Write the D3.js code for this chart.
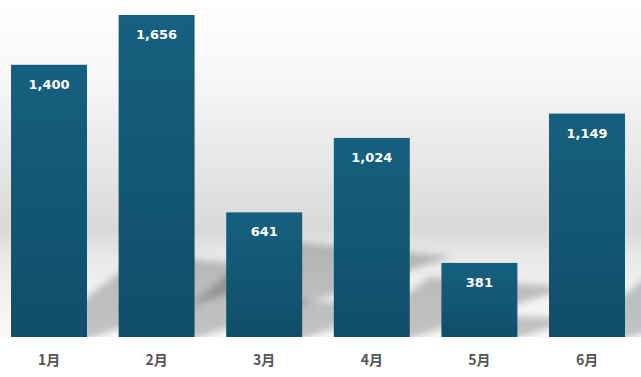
<!DOCTYPE html>
<html>
<head>
<meta charset="utf-8">
<script src="https://d3js.org/d3.v7.min.js"></script>
<style>
  body { margin: 0; background: #fff; }
</style>
</head>
<body>
<svg width="641" height="377"></svg>
<script>
var months = ["1月", "2月", "3月", "4月", "5月", "6月"];
var sales = [1400, 1656, 641, 1024, 381, 1149];

var svg = d3.select("svg"),
    width = +svg.attr("width"),
    height = +svg.attr("height"),
    base = 337;

var defs = svg.append("defs");

var bg = defs.append("linearGradient").attr("id", "bg")
    .attr("x1", 0).attr("y1", 0).attr("x2", 0).attr("y2", 1);
[[0, "#ffffff"], [0.25, "#f6f6f6"], [0.55, "#e2e2e2"], [0.68, "#d9d9d9"],
 [0.76, "#e8e8e8"], [0.86, "#f1f1f1"], [1, "#f9f9f9"]].forEach(function(s) {
  bg.append("stop").attr("offset", s[0]).attr("stop-color", s[1]);
});

var barGrad = defs.append("linearGradient").attr("id", "bar")
    .attr("x1", 0).attr("y1", 0).attr("x2", 0).attr("y2", 1);
barGrad.append("stop").attr("offset", 0).attr("stop-color", "#16607f");
barGrad.append("stop").attr("offset", 1).attr("stop-color", "#104e69");

defs.append("filter").attr("id", "blur")
    .attr("x", "-20%").attr("y", "-20%").attr("width", "140%").attr("height", "140%")
  .append("feGaussianBlur").attr("stdDeviation", 3.5);

defs.append("clipPath").attr("id", "plot")
  .append("rect").attr("x", 0).attr("y", 0).attr("width", width).attr("height", base);

svg.append("rect")
    .attr("width", width).attr("height", base)
    .attr("fill", "url(#bg)");

var x = d3.scaleBand()
    .domain(months)
    .range([-4.8, 640.8])
    .paddingInner(0.294)
    .paddingOuter(0.147);

var y = d3.scaleLinear()
    .domain([0, d3.max(sales)])
    .range([base, 15]);

// shadows cast towards the back
svg.append("g")
    .attr("clip-path", "url(#plot)")
  .append("g")
    .attr("filter", "url(#blur)")
  .selectAll("path")
  .data(sales)
  .join("path")
    .attr("fill", "#000")
    .attr("fill-opacity", 0.22)
    .attr("d", function(d, i) {
      var x0 = x(months[i]), x1 = x0 + x.bandwidth(), h = base - y(d);
      return "M" + (x0 + 0.08 * h) + "," + (base + 2) +
             "L" + x1 + "," + (base + 2) +
             "L" + (x1 + 0.8 * h) + "," + (base - 0.25 * h) +
             "L" + (x0 + 0.48 * h) + "," + (base - 0.3 * h) + "Z";
    });

svg.append("g")
  .selectAll("rect")
  .data(sales)
  .join("rect")
    .attr("x", function(d, i) { return x(months[i]); })
    .attr("y", function(d) { return y(d); })
    .attr("width", x.bandwidth())
    .attr("height", function(d) { return base - y(d); })
    .attr("fill", "url(#bar)");

svg.append("g")
  .selectAll("text")
  .data(sales)
  .join("text")
    .attr("x", function(d, i) { return x(months[i]) + x.bandwidth() / 2; })
    .attr("y", function(d) { return y(d) + 24; })
    .attr("text-anchor", "middle")
    .attr("fill", "#fff")
    .style("font", "bold 13px 'DejaVu Sans', sans-serif")
    .text(function(d) { return d3.format(",")(d); });

var axis = svg.append("g")
    .attr("transform", "translate(0," + base + ")")
    .call(d3.axisBottom(x).tickSize(0).tickPadding(10));
axis.select(".domain").remove();
axis.selectAll("text")
    .attr("dy", 0)
    .attr("y", 28)
    .attr("fill", "#555")
    .style("font", "bold 14px 'Noto Sans CJK JP', 'Noto Sans', sans-serif");
</script>
</body>
</html>
